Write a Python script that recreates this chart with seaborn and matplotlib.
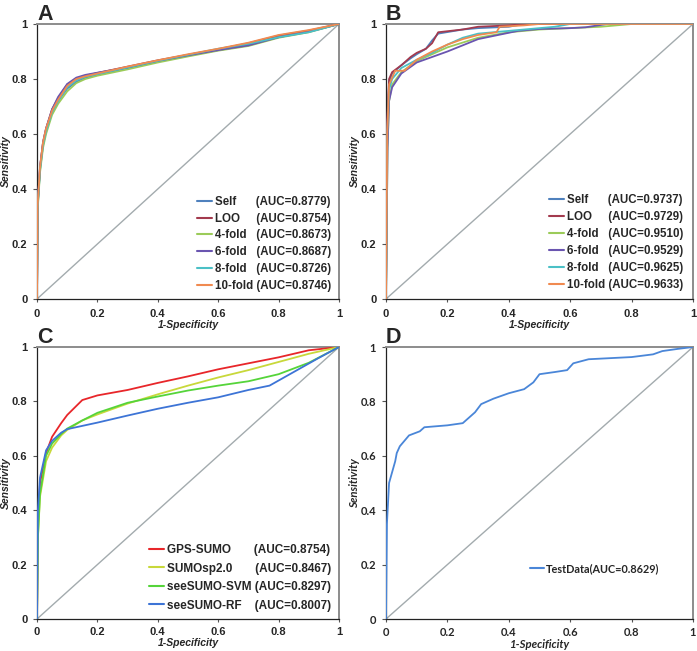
import pandas as pd
import matplotlib.pyplot as plt
import seaborn as sns

# --- ROC points ---

# Panel A: cross-validation on training set
a_names = ['Self', 'LOO', '4-fold', '6-fold', '8-fold', '10-fold']
a_auc = ['0.8779', '0.8754', '0.8673', '0.8687', '0.8726', '0.8746']
a_pad = [6, 5, 3, 3, 3, 1]
a_fpr = {
    'Self':    [0, 0.002, 0.01, 0.02, 0.03, 0.05, 0.07, 0.1, 0.13, 0.16, 0.2, 0.3, 0.4, 0.5, 0.6, 0.7, 0.8, 0.9, 1],
    'LOO':     [0, 0.002, 0.01, 0.02, 0.03, 0.05, 0.07, 0.1, 0.13, 0.16, 0.2, 0.3, 0.4, 0.5, 0.6, 0.7, 0.8, 0.9, 1],
    '4-fold':  [0, 0.002, 0.01, 0.02, 0.03, 0.05, 0.07, 0.1, 0.13, 0.16, 0.2, 0.3, 0.4, 0.5, 0.6, 0.7, 0.8, 0.9, 1],
    '6-fold':  [0, 0.002, 0.01, 0.02, 0.03, 0.05, 0.07, 0.1, 0.13, 0.16, 0.2, 0.3, 0.4, 0.5, 0.6, 0.7, 0.8, 0.9, 1],
    '8-fold':  [0, 0.002, 0.01, 0.02, 0.03, 0.05, 0.07, 0.1, 0.13, 0.16, 0.2, 0.3, 0.4, 0.5, 0.6, 0.7, 0.8, 0.9, 1],
    '10-fold': [0, 0.002, 0.01, 0.02, 0.03, 0.05, 0.07, 0.1, 0.13, 0.16, 0.2, 0.3, 0.4, 0.5, 0.6, 0.7, 0.8, 0.9, 1],
}
a_tpr = {
    'Self':    [0, 0.33, 0.47, 0.56, 0.61, 0.68, 0.72, 0.765, 0.79, 0.805, 0.815, 0.84, 0.865, 0.885, 0.905, 0.925, 0.955, 0.972, 1],
    'LOO':     [0, 0.34, 0.48, 0.57, 0.62, 0.69, 0.73, 0.78, 0.80, 0.812, 0.822, 0.845, 0.868, 0.888, 0.908, 0.93, 0.958, 0.976, 1],
    '4-fold':  [0, 0.32, 0.46, 0.55, 0.60, 0.67, 0.71, 0.755, 0.785, 0.80, 0.812, 0.835, 0.86, 0.882, 0.903, 0.92, 0.95, 0.97, 1],
    '6-fold':  [0, 0.34, 0.48, 0.57, 0.62, 0.69, 0.735, 0.782, 0.805, 0.815, 0.823, 0.842, 0.866, 0.886, 0.905, 0.922, 0.952, 0.972, 1],
    '8-fold':  [0, 0.33, 0.47, 0.56, 0.61, 0.68, 0.72, 0.77, 0.795, 0.808, 0.818, 0.842, 0.866, 0.888, 0.91, 0.928, 0.952, 0.97, 1],
    '10-fold': [0, 0.34, 0.48, 0.57, 0.62, 0.685, 0.725, 0.775, 0.80, 0.81, 0.82, 0.845, 0.868, 0.89, 0.91, 0.932, 0.96, 0.978, 1],
}
a_colors = ['#4f81bd', '#a33a4e', '#9bcb59', '#6a55b0', '#4bc0c6', '#f08a50']

# Panel B: cross-validation on a second set
b_names = a_names
b_auc = ['0.9737', '0.9729', '0.9510', '0.9529', '0.9625', '0.9633']
b_pad = a_pad
b_fpr = {
    'Self':    [0, 0.003, 0.01, 0.02, 0.05, 0.08, 0.1, 0.13, 0.15, 0.17, 0.25, 0.3, 0.4, 0.45, 1],
    'LOO':     [0, 0.003, 0.01, 0.02, 0.05, 0.08, 0.1, 0.13, 0.15, 0.17, 0.25, 0.3, 0.4, 0.45, 1],
    '4-fold':  [0, 0.005, 0.01, 0.02, 0.05, 0.1, 0.15, 0.2, 0.3, 0.4, 0.5, 0.6, 0.7, 0.8, 1],
    '6-fold':  [0, 0.005, 0.01, 0.02, 0.05, 0.1, 0.15, 0.2, 0.3, 0.43, 0.5, 0.6, 0.65, 0.72, 1],
    '8-fold':  [0, 0.004, 0.01, 0.02, 0.05, 0.1, 0.15, 0.2, 0.25, 0.3, 0.4, 0.5, 0.55, 0.6, 1],
    '10-fold': [0, 0.004, 0.01, 0.03, 0.06, 0.1, 0.15, 0.2, 0.25, 0.3, 0.36, 0.37, 0.45, 0.5, 1],
}
b_tpr = {
    'Self':    [0, 0.6, 0.79, 0.82, 0.85, 0.875, 0.89, 0.91, 0.94, 0.965, 0.98, 0.985, 0.99, 1.0, 1.0],
    'LOO':     [0, 0.62, 0.80, 0.825, 0.85, 0.88, 0.895, 0.91, 0.93, 0.97, 0.98, 0.99, 0.995, 1.0, 1.0],
    '4-fold':  [0, 0.55, 0.72, 0.78, 0.825, 0.865, 0.89, 0.915, 0.95, 0.97, 0.98, 0.985, 0.99, 1.0, 1.0],
    '6-fold':  [0, 0.55, 0.72, 0.77, 0.82, 0.86, 0.88, 0.9, 0.945, 0.975, 0.982, 0.985, 0.988, 1.0, 1.0],
    '8-fold':  [0, 0.6, 0.76, 0.80, 0.84, 0.87, 0.895, 0.925, 0.95, 0.965, 0.975, 0.985, 0.99, 1.0, 1.0],
    '10-fold': [0, 0.6, 0.78, 0.83, 0.83, 0.87, 0.9, 0.925, 0.945, 0.96, 0.97, 0.99, 0.995, 1.0, 1.0],
}
b_colors = a_colors

# Panel C: comparison with other predictors
c_names = ['GPS-SUMO', 'SUMOsp2.0', 'seeSUMO-SVM', 'seeSUMO-RF']
c_auc = ['0.8754', '0.8467', '0.8297', '0.8007']
c_pad = [7, 7, 1, 4]
c_fpr = {
    'GPS-SUMO':    [0, 0.003, 0.01, 0.03, 0.05, 0.08, 0.1, 0.15, 0.2, 0.3, 0.4, 0.5, 0.6, 0.7, 0.8, 0.9, 1],
    'SUMOsp2.0':   [0, 0.003, 0.01, 0.03, 0.05, 0.08, 0.1, 0.15, 0.2, 0.3, 0.4, 0.5, 0.6, 0.7, 0.8, 0.9, 1],
    'seeSUMO-SVM': [0, 0.003, 0.01, 0.03, 0.05, 0.08, 0.1, 0.15, 0.2, 0.3, 0.4, 0.5, 0.6, 0.7, 0.8, 0.9, 1],
    'seeSUMO-RF':  [0, 0.003, 0.01, 0.03, 0.05, 0.08, 0.1, 0.15, 0.2, 0.3, 0.4, 0.5, 0.6, 0.7, 0.77, 0.85, 0.93, 1],
}
c_tpr = {
    'GPS-SUMO':    [0, 0.35, 0.5, 0.61, 0.67, 0.72, 0.75, 0.805, 0.822, 0.842, 0.868, 0.892, 0.918, 0.94, 0.962, 0.988, 1],
    'SUMOsp2.0':   [0, 0.3, 0.45, 0.58, 0.63, 0.675, 0.695, 0.73, 0.752, 0.792, 0.826, 0.858, 0.888, 0.915, 0.945, 0.975, 1],
    'seeSUMO-SVM': [0, 0.3, 0.46, 0.6, 0.645, 0.68, 0.7, 0.73, 0.758, 0.795, 0.818, 0.84, 0.858, 0.874, 0.9, 0.942, 1],
    'seeSUMO-RF':  [0, 0.4, 0.52, 0.62, 0.655, 0.685, 0.698, 0.71, 0.722, 0.748, 0.773, 0.795, 0.815, 0.842, 0.858, 0.908, 0.958, 1],
}
c_colors = ['#e8262a', '#c8d83a', '#55d43a', '#3d74d6']

# Panel D: independent test data
d_names = ['TestData']
d_auc = ['0.8629']
d_fpr = {'TestData': [0, 0.003, 0.01, 0.02, 0.03, 0.035, 0.045, 0.06, 0.075, 0.11, 0.125, 0.2, 0.25,
                      0.27, 0.29, 0.31, 0.35, 0.4, 0.45, 0.48, 0.5, 0.55, 0.59, 0.61, 0.66, 0.8, 0.87,
                      0.9, 0.95, 1]}
d_tpr = {'TestData': [0, 0.35, 0.5, 0.54, 0.58, 0.61, 0.635, 0.655, 0.675, 0.69, 0.705, 0.712, 0.72,
                      0.74, 0.76, 0.79, 0.81, 0.83, 0.845, 0.87, 0.9, 0.908, 0.915, 0.94, 0.955, 0.963,
                      0.973, 0.985, 0.993, 1]}
d_colors = ['#4a86d8']

diag = [0, 1]
ticks = [0, 0.2, 0.4, 0.6, 0.8, 1]
tick_labels = ['0', '0.2', '0.4', '0.6', '0.8', '1']


def long_table(names, fpr, tpr, labels):
    rows = []
    for name, lab in zip(names, labels):
        for x, y in zip(fpr[name], tpr[name]):
            rows.append({'fpr': x, 'tpr': y, 'model': lab})
    return pd.DataFrame(rows)


sns.set_style('white')
plt.rcParams['font.family'] = ['Liberation Sans', 'DejaVu Sans']

fig = plt.figure(figsize=(6.97, 6.51), dpi=100)
W, H = 697, 651
boxes = {
    'A': (37, 24, 339, 299),
    'B': (386, 24, 693, 299),
    'C': (37, 347, 339, 619),
    'D': (386, 347, 693, 619),
}

# names, fpr, tpr, colours, legend labels, legend anchor, legend size, row gap,
# handle text pad, font, axis label size, tick pad, x label offset (px)
panels = {
    'A': (a_names, a_fpr, a_tpr, a_colors,
          [n + ' ' * p + '(AUC=' + v + ')' for n, p, v in zip(a_names, a_pad, a_auc)],
          (0.515, 0.009), 8.3, 0.42, 0.25, 'Liberation Sans', 7.5, 7, 21),
    'B': (b_names, b_fpr, b_tpr, b_colors,
          [n + ' ' * p + '(AUC=' + v + ')' for n, p, v in zip(b_names, b_pad, b_auc)],
          (0.515, 0.014), 8.3, 0.43, 0.25, 'Liberation Sans', 7.5, 7, 21),
    'C': (c_names, c_fpr, c_tpr, c_colors,
          [n + ' ' * p + '(AUC=' + v + ')' for n, p, v in zip(c_names, c_pad, c_auc)],
          (0.355, 0.01), 8.5, 0.55, 0.25, 'Liberation Sans', 7.5, 6, 19),
    'D': (d_names, d_fpr, d_tpr, d_colors,
          [n + '(AUC=' + v + ')' for n, v in zip(d_names, d_auc)],
          (0.455, 0.15), 7.8, 0.5, 0.2, 'Lato', 8.2, 6, 20),
}

for key, (names, fpr, tpr, colors, labels, anchor, lsize, lgap, tpad, fam, asize, xpad, xoff) in panels.items():
    l, t, r, b = boxes[key]
    ax = fig.add_axes([l / W, 1 - b / H, (r - l) / W, (b - t) / H])
    df = long_table(names, fpr, tpr, labels)
    ax.plot(diag, diag, color='#a3abae', lw=1.0, zorder=1)
    sns.lineplot(data=df, x='fpr', y='tpr', hue='model', palette=colors,
                 sort=False, estimator=None, lw=1.3, ax=ax, zorder=3)
    ax.set_xlim(0, 1)
    ax.set_ylim(0, 1)
    ax.set_xticks(ticks)
    ax.set_yticks(ticks)
    ax.set_xticklabels(tick_labels, fontweight='bold', fontsize=8, family=fam)
    ax.set_yticklabels(tick_labels, fontweight='bold', fontsize=8, family=fam)
    ax.tick_params(axis='y', length=3, width=0.8, color='#555555', pad=4, left=True)
    ax.tick_params(axis='x', length=2, width=0.8, color='#555555', pad=xpad - 2, bottom=True)
    ax.set_xlabel('1-Specificity', fontweight='bold', style='italic', fontsize=asize, family=fam)
    ax.set_ylabel('Sensitivity', fontweight='bold', style='italic', fontsize=asize, family=fam)
    ax.yaxis.set_label_coords(-26 / (r - l), 0.5)
    ax.xaxis.set_label_coords(0.5, -xoff / (b - t))
    for s in ['left', 'bottom']:
        ax.spines[s].set_color('#222222')
        ax.spines[s].set_linewidth(0.9)
    for s in ['top', 'right']:
        ax.spines[s].set_color('#8c8c8c')
        ax.spines[s].set_linewidth(1.4)
    leg = ax.legend(loc='lower left', bbox_to_anchor=anchor, frameon=False,
                    handlelength=1.3, handletextpad=tpad, labelspacing=lgap,
                    borderaxespad=0, prop={'weight': 'bold', 'size': lsize, 'family': fam})
    for h in leg.get_lines():
        h.set_linewidth(1.5)
    fig.text(l / W, 1 - (t - 4) / H, key, fontsize=15.5, fontweight='bold',
             ha='left', va='baseline', family='Liberation Sans')

fig.savefig('out.png', dpi=100)
